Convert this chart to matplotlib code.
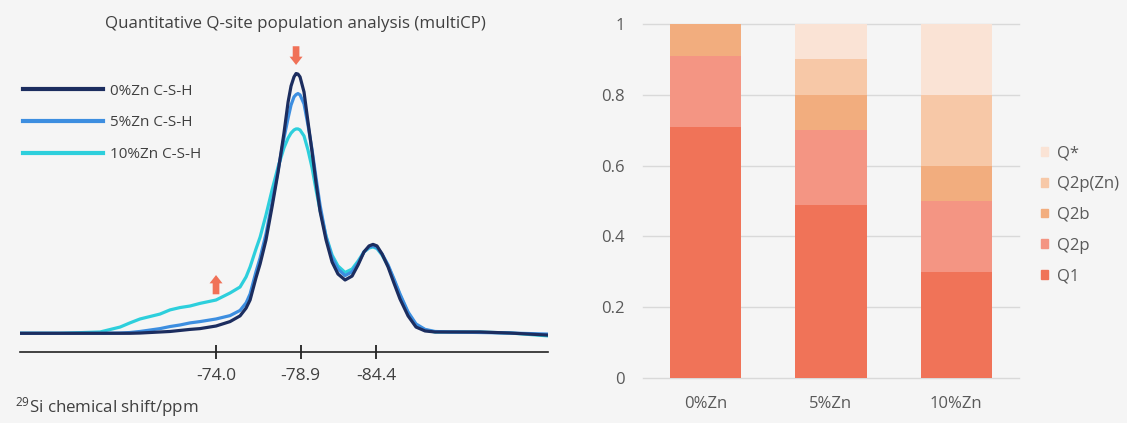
import numpy as np
import matplotlib
matplotlib.use("Agg")
import matplotlib.pyplot as plt
from matplotlib.patches import Patch
from matplotlib.lines import Line2D

plt.rcParams["font.family"] = ["Open Sans", "DejaVu Sans"]
plt.rcParams["mathtext.fontset"] = "custom"
plt.rcParams["mathtext.rm"] = "Open Sans"

BG = "#f5f5f5"

# ---------------- 29Si NMR spectra (multiCP) ----------------
shift_ppm = [-62.66, -64.98, -67.29, -68.45, -69.02, -69.60, -70.76, -71.34, -71.92,
             -72.50, -73.07, -74.00, -74.81, -75.39, -75.74, -75.97, -76.31, -76.55,
             -76.89, -77.24, -77.59, -77.93, -78.17, -78.34, -78.51, -78.63, -78.74,
             -78.86, -79.14, -79.43, -79.73, -80.02, -80.31, -80.75, -81.19, -81.62,
             -82.14, -82.65, -83.09, -83.52, -83.89, -84.18, -84.47, -84.84, -85.28,
             -85.71, -86.15, -86.74, -87.32, -87.98, -88.71, -89.80, -92.00, -94.19,
             -96.96]

int_0zn = [0.0, 0.0, 0.0, 0.0, 0.0, 0.1, 0.5, 0.7, 1.1, 1.5, 1.8, 2.8, 4.5, 6.7, 9.7,
           12.8, 21.3, 26.7, 35.9, 48.6, 62.0, 77.0, 89.0, 95.1, 98.6, 99.9, 99.7, 98.6,
           92.8, 81.3, 69.7, 57.8, 47.0, 35.9, 27.4, 22.8, 20.5, 22.0, 26.3, 31.3, 33.6,
           34.2, 33.6, 30.5, 25.5, 19.3, 13.2, 6.7, 2.4, 0.9, 0.5, 0.5, 0.5, 0.1, -0.7]

int_5zn = [0.0, 0.0, 0.0, 0.1, 0.3, 0.7, 1.8, 2.6, 3.2, 4.0, 4.5, 5.5, 6.8, 8.8, 11.7,
           15.1, 23.6, 29.0, 38.2, 50.1, 62.8, 75.1, 82.8, 87.8, 90.9, 91.8, 92.2, 91.7,
           88.2, 80.1, 70.5, 59.7, 49.3, 37.0, 29.0, 24.7, 22.2, 23.6, 27.0, 31.3, 33.2,
           33.6, 33.0, 30.5, 26.3, 20.9, 15.1, 8.2, 3.6, 1.5, 0.7, 0.5, 0.3, 0.1, -0.3]

int_10zn = [0.0, 0.0, 0.5, 2.4, 4.0, 5.5, 7.4, 9.0, 9.9, 10.5, 11.5, 12.8, 15.5, 17.8,
            21.7, 25.5, 32.4, 37.0, 45.5, 55.1, 64.0, 71.3, 75.1, 77.0, 78.2, 78.6, 78.6,
            78.2, 75.9, 70.5, 63.6, 55.1, 47.4, 37.4, 30.1, 25.9, 23.4, 24.7, 27.8, 31.3,
            32.8, 33.2, 32.6, 30.1, 25.9, 20.5, 14.7, 7.8, 3.2, 1.3, 0.5, 0.5, 0.5, 0.1,
            -1.0]

spectra_labels = ["0%Zn C-S-H", "5%Zn C-S-H", "10%Zn C-S-H"]
spectra_colors = ["#1c2d5f", "#3d8ee0", "#2dcfdc"]
peak_ticks = [-74.0, -78.9, -84.4]

# ---------------- Q-site populations ----------------
samples = ["0%Zn", "5%Zn", "10%Zn"]
q1 = [0.71, 0.49, 0.30]
q2p = [0.20, 0.21, 0.20]
q2b = [0.09, 0.10, 0.10]
q2p_zn = [0.00, 0.10, 0.20]
q_star = [0.00, 0.10, 0.20]
site_labels = ["Q1", "Q2p", "Q2b", "Q2p(Zn)", "Q*"]
site_colors = ["#f07358", "#f49583", "#f2ad7e", "#f7c8a7", "#fae3d5"]


# piecewise-linear shift axis through the labelled peak positions
_ppm_nodes = [-120.0, -84.4, -78.9, -74.0, -40.0]
_pos_nodes = [-647.4, -160.0, -84.7, 0.0, 587.7]


def _fwd(v):
    return np.interp(v, _ppm_nodes, _pos_nodes)


def _inv(v):
    return np.interp(v, _pos_nodes, _ppm_nodes)


fig = plt.figure(figsize=(11.27, 4.23), dpi=100, facecolor=BG)

# ---- left: spectra ----
ax1 = fig.add_axes([20 / 1127, 1 - 351.7 / 423, 528 / 1127, (351.7 - 40) / 423])
ax1.set_facecolor(BG)
ax1.set_xscale("function", functions=(_fwd, _inv))

series = [int_0zn, int_5zn, int_10zn]
for idx in [2, 1, 0]:
    ax1.plot(shift_ppm, series[idx], color=spectra_colors[idx], lw=2.3,
             solid_joinstyle="round", solid_capstyle="round")

ax1.set_xlim(-62.66, -96.96)
ax1.set_ylim(-7.08, 112.8)
for s in ["left", "right", "top"]:
    ax1.spines[s].set_visible(False)
ax1.spines["bottom"].set_color("#222222")
ax1.spines["bottom"].set_linewidth(1.2)
ax1.set_yticks([])
ax1.set_xticks(peak_ticks)
ax1.set_xticklabels([f"{v:.1f}" for v in peak_ticks])
ax1.xaxis.set_minor_locator(matplotlib.ticker.NullLocator())
ax1.tick_params(axis="x", direction="inout", length=10, width=1.3, color="#222222",
                labelsize=12.5, labelcolor="#404040", pad=6.5)

legend_handles = [Line2D([], [], color=c, lw=3) for c in spectra_colors]
ax1.legend(legend_handles, spectra_labels, loc="upper left",
           bbox_to_anchor=(0.005, 0.86), frameon=False, borderpad=0,
           borderaxespad=0, handlelength=5.27, handletextpad=0.47,
           labelspacing=1.1, fontsize=11, labelcolor="#404040")

# arrows marking intensity changes
arrow_kw = dict(arrowstyle="simple,head_length=0.46,head_width=0.72,tail_width=0.37",
                color="#f07157", lw=0, shrinkA=0, shrinkB=0, mutation_scale=13)
i_peak = int(np.argmax(int_0zn))
x_peak = shift_ppm[i_peak]
y_peak = int_0zn[i_peak]
ax1.annotate("", xy=(x_peak, y_peak + 3.3), xytext=(x_peak, y_peak + 10.5),
             arrowprops=arrow_kw, annotation_clip=False)
i_sh = shift_ppm.index(peak_ticks[0])
y_sh = int_10zn[i_sh]
ax1.annotate("", xy=(peak_ticks[0], y_sh + 9.6), xytext=(peak_ticks[0], y_sh + 2.2),
             arrowprops=arrow_kw)

fig.text(295 / 1127, 1 - 24 / 423, "Quantitative Q-site population analysis (multiCP)",
         ha="center", va="center", fontsize=12.2, color="#404040")
fig.text(15 / 1127, 1 - 406.7 / 423, r"$\mathregular{^{29}}$Si chemical shift/ppm",
         ha="left", va="center", fontsize=12.2, color="#404040")

# ---- right: stacked bars ----
ax2 = fig.add_axes([643 / 1127, 45 / 423, 376 / 1127, 354 / 423])
ax2.set_facecolor(BG)
x = np.arange(len(samples))
bottom = np.zeros(len(samples))
for vals, lab, col in zip([q1, q2p, q2b, q2p_zn, q_star], site_labels, site_colors):
    ax2.bar(x, vals, 0.567, bottom=bottom, color=col, label=lab, zorder=3, linewidth=0)
    bottom = bottom + np.array(vals)

ax2.set_xlim(-0.5, 2.5)
ax2.set_ylim(0, 1)
yt = [0, 0.2, 0.4, 0.6, 0.8, 1.0]
ax2.set_yticks(yt)
ax2.set_yticklabels([f"{v:g}" for v in yt])
ax2.set_xticks(x)
ax2.set_xticklabels(samples)
ax2.grid(axis="y", color="#d9d9d9", lw=1, zorder=0)
for s in ax2.spines.values():
    s.set_visible(False)
ax2.tick_params(axis="both", length=0, labelsize=12, labelcolor="#595959", pad=13)
for gl in ax2.get_ygridlines():
    gl.set_clip_on(False)

leg_handles = [Patch(color=c) for c in site_colors[::-1]]
ax2.legend(leg_handles, site_labels[::-1], loc="upper left",
           bbox_to_anchor=(1.0585, 0.6565), frameon=False, borderpad=0,
           borderaxespad=0, handlelength=0.45, handleheight=0.45,
           handletextpad=0.52, labelspacing=0.88, fontsize=12, labelcolor="#595959")

fig.savefig("out.png", dpi=100, facecolor=BG)
